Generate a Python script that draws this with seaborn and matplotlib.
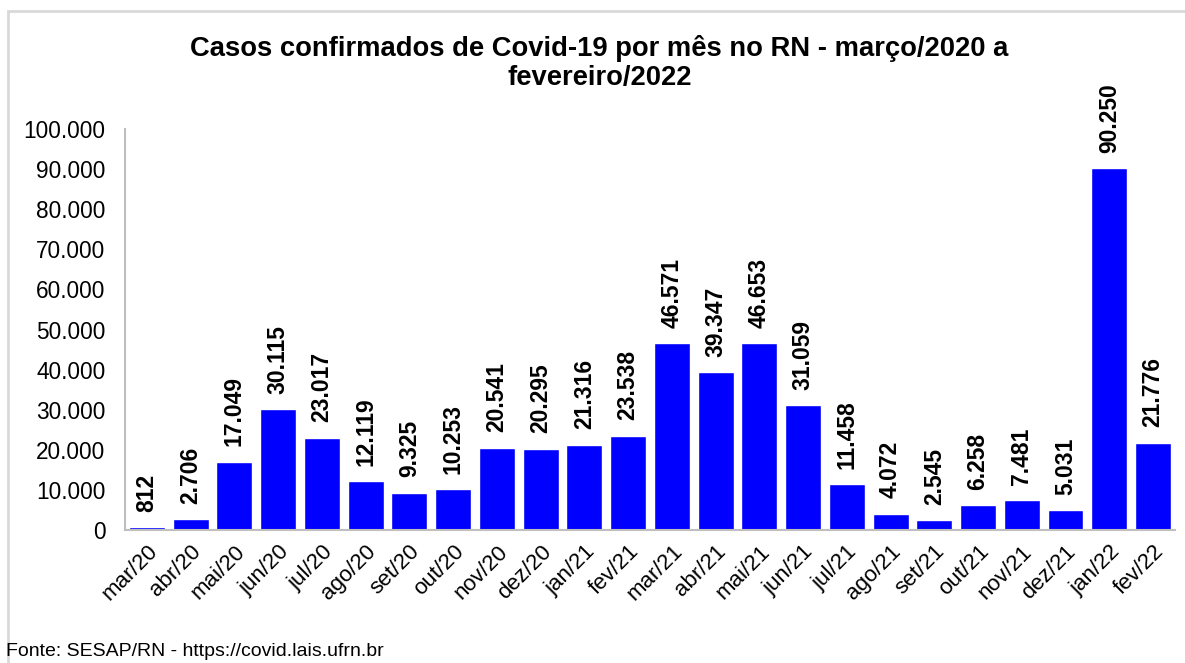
import matplotlib
matplotlib.use("Agg")
import matplotlib.pyplot as plt
import matplotlib.patches as mpatches
import seaborn as sns
import pandas as pd

meses = ["mar/20", "abr/20", "mai/20", "jun/20", "jul/20", "ago/20", "set/20", "out/20",
         "nov/20", "dez/20", "jan/21", "fev/21", "mar/21", "abr/21", "mai/21", "jun/21",
         "jul/21", "ago/21", "set/21", "out/21", "nov/21", "dez/21", "jan/22", "fev/22"]
casos = [812, 2706, 17049, 30115, 23017, 12119, 9325, 10253,
         20541, 20295, 21316, 23538, 46571, 39347, 46653, 31059,
         11458, 4072, 2545, 6258, 7481, 5031, 90250, 21776]

df = pd.DataFrame({"mes": meses, "casos": casos})


def fmt_br(v):
    return f"{int(v):,}".replace(",", ".")


sns.set_theme(style="white")
plt.rcParams["font.family"] = ["Liberation Sans", "DejaVu Sans"]
plt.rcParams["text.color"] = "black"
plt.rcParams["xtick.labelcolor"] = "black"
plt.rcParams["ytick.labelcolor"] = "black"

fig = plt.figure(figsize=(11.85, 6.63), dpi=100)
ax = fig.add_axes([0.1055, 0.2006, 0.886, 0.6048])

sns.barplot(
    data=df,
    x="mes",
    y="casos",
    color="#0000FF",
    saturation=1,
    width=0.82,
    ax=ax
)

# rótulos das barras
for i, v in enumerate(casos):
    ax.text(i, v + 3800, fmt_br(v), rotation=90, ha="center", va="bottom",
            fontsize=16.5, fontweight="bold", color="black")

ax.set_ylim(0, 100000)
ax.set_xlim(-0.5, len(meses) - 0.5)
ax.set_yticks(range(0, 100001, 10000))
ax.set_yticklabels([fmt_br(v) for v in range(0, 100001, 10000)], fontsize=16.3)
ax.set_xticks(range(len(meses)))
ax.set_xticklabels(meses, rotation=45, ha="right", rotation_mode="anchor", fontsize=16)
ax.set_xticks([i - 0.5 for i in range(len(meses) + 1)], minor=True)
ax.tick_params(axis="x", which="major", length=0, pad=8)
ax.tick_params(axis="x", which="minor", length=6, color="#BFBFBF", width=1.5, direction="out")
ax.tick_params(axis="y", length=6, color="#BFBFBF", width=1, direction="out", pad=8)
ax.set_xlabel("")
ax.set_ylabel("")

for s in ["top", "right"]:
    ax.spines[s].set_visible(False)
for s in ["left", "bottom"]:
    ax.spines[s].set_color("#BFBFBF")
    ax.spines[s].set_linewidth(1.5)

fig.text(0.506, 0.905, "Casos confirmados de Covid-19 por mês no RN - março/2020 a\nfevereiro/2022",
         ha="center", va="center", fontsize=19.7, fontweight="bold", linespacing=1.15)

fig.text(0.005, 0.017, "Fonte: SESAP/RN - https://covid.lais.ufrn.br", ha="left", va="center",
         fontsize=14)

# moldura do gráfico
fig.patches.append(mpatches.Rectangle((8 / 1185, -0.1), 1.2, 1 - 11 / 663 + 0.1,
                                      transform=fig.transFigure, fill=False,
                                      edgecolor="#D9D9D9", linewidth=2))

fig.savefig("out.png", dpi=100)
